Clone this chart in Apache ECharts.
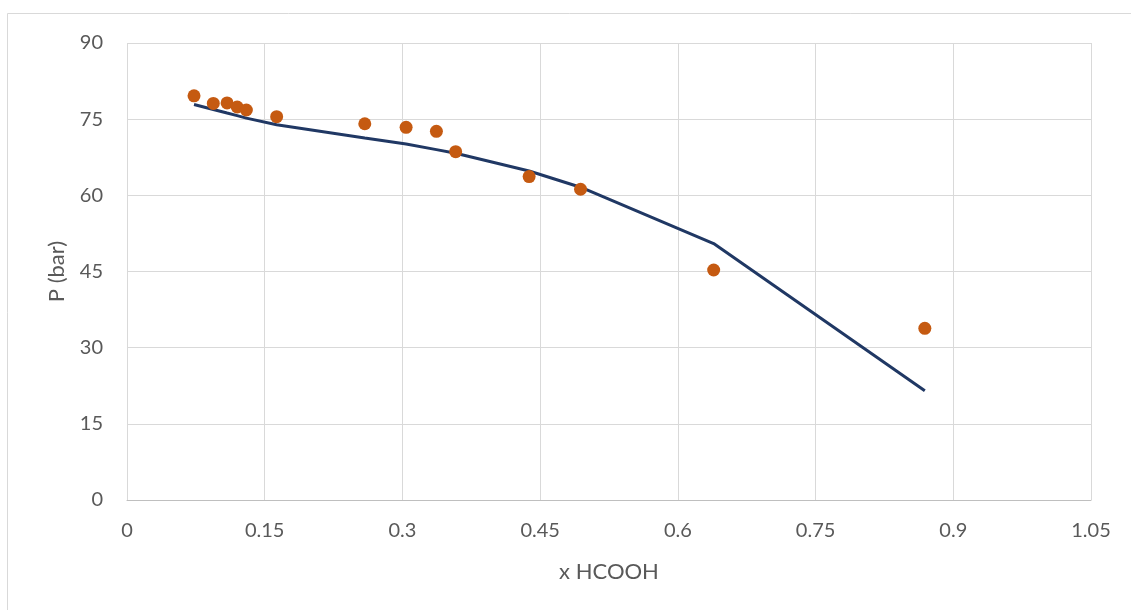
<!DOCTYPE html>
<html><head><meta charset="utf-8">
<script src="https://cdn.jsdelivr.net/npm/echarts@6/dist/echarts.min.js"></script>
<style>html,body{margin:0;padding:0;background:#fff}#c{width:1131px;height:610px}</style>
</head><body><div id="c"></div>
<script>
const expX = [0.073, 0.094, 0.109, 0.120, 0.130, 0.163, 0.259, 0.304, 0.337, 0.358, 0.438, 0.494, 0.639, 0.869];
const expP = [79.6, 78.1, 78.2, 77.4, 76.8, 75.5, 74.1, 73.4, 72.6, 68.6, 63.7, 61.2, 45.3, 33.8];
const modelX = [0.073, 0.094, 0.109, 0.120, 0.130, 0.163, 0.259, 0.304, 0.337, 0.358, 0.438, 0.494, 0.639, 0.869];
const modelP = [77.9, 76.9, 76.2, 75.7, 75.2, 73.9, 71.3, 70.1, 69.0, 68.3, 64.8, 61.6, 50.5, 21.5];
const xTicks = [0, 0.15, 0.3, 0.45, 0.6, 0.75, 0.9, 1.05];
const yTicks = [0, 15, 30, 45, 60, 75, 90];

const font = 'Lato, "Open Sans", sans-serif';
const chart = echarts.init(document.getElementById('c'));
chart.setOption({
  animation: false,
  backgroundColor: '#fff',
  graphic: [{type: 'rect', shape: {x: 7.5, y: 13.5, width: 1200, height: 700}, style: {fill: 'none', stroke: '#d9d9d9', lineWidth: 1}, silent: true, z: -1}],
  grid: {left: 127, right: 40, top: 43, bottom: 110},
  xAxis: {
    type: 'value', min: xTicks[0], max: xTicks[xTicks.length - 1], interval: 0.15,
    name: 'x HCOOH', nameLocation: 'middle', nameGap: 61,
    nameTextStyle: {color: '#595959', fontSize: 22, fontFamily: font},
    axisLine: {show: true, lineStyle: {color: '#bfbfbf', width: 1}},
    axisTick: {show: false},
    axisLabel: {color: '#595959', fontSize: 20, fontFamily: font, margin: 21,
      formatter: v => { const t = xTicks.find(k => Math.abs(k - v) < 1e-9); return t === undefined ? '' : String(t); }},
    splitLine: {show: true, lineStyle: {color: '#d9d9d9', width: 1}}
  },
  yAxis: {
    type: 'value', min: yTicks[0], max: yTicks[yTicks.length - 1], interval: 15,
    name: 'P (bar)', nameLocation: 'middle', nameGap: 59,
    nameTextStyle: {color: '#595959', fontSize: 22, fontFamily: font},
    axisLine: {show: false},
    axisTick: {show: false},
    axisLabel: {color: '#595959', fontSize: 20, fontFamily: font, margin: 24},
    splitLine: {show: true, lineStyle: {color: '#d9d9d9', width: 1}}
  },
  series: [
    {type: 'line', data: modelX.map((x, i) => [x, modelP[i]]), showSymbol: false, symbol: 'none',
     lineStyle: {color: '#203864', width: 3}, z: 2},
    {type: 'scatter', data: expX.map((x, i) => [x, expP[i]]), symbol: 'circle', symbolSize: 13,
     itemStyle: {color: '#C55A11', opacity: 1}, z: 3}
  ]
});
</script></body></html>
